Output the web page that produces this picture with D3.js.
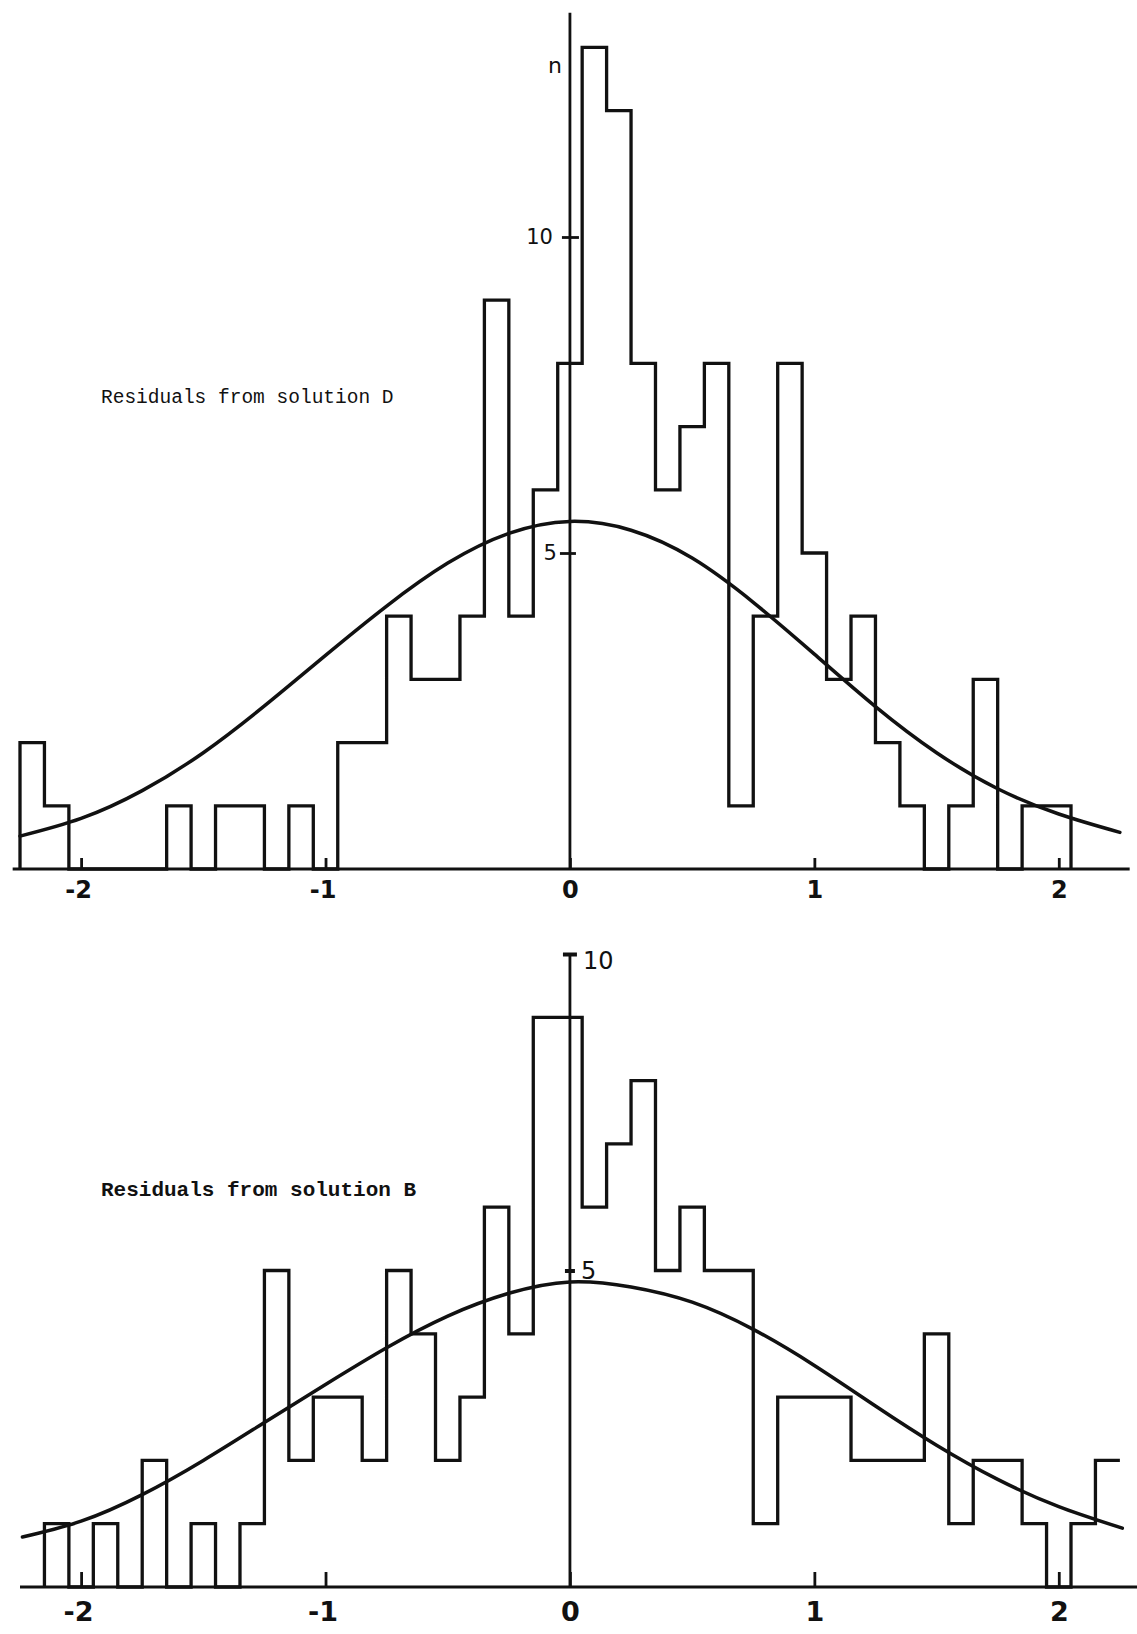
<!DOCTYPE html>
<html><head><meta charset="utf-8">
<script src="https://cdn.jsdelivr.net/npm/d3@7"></script>
<style>
html,body{margin:0;padding:0;background:#fff;}
svg{display:block;}
</style></head><body>
<svg id="chart" width="1137" height="1634"></svg>
<script>
// ---------- data ----------
const binWidth = 0.1;

const topCenters = [-2.2,-2.1,-2.0,-1.9,-1.8,-1.7,-1.6,-1.5,-1.4,-1.3,-1.2,-1.1,-1.0,-0.9,-0.8,-0.7,-0.6,-0.5,-0.4,-0.3,-0.2,-0.1,0.0,0.1,0.2,0.3,0.4,0.5,0.6,0.7,0.8,0.9,1.0,1.1,1.2,1.3,1.4,1.5,1.6,1.7,1.8,1.9,2.0];
const topCounts  = [2,1,0,0,0,0,1,0,1,1,0,1,0,2,2,4,3,3,4,9,4,6,8,13,12,8,6,7,8,1,4,8,5,3,4,2,1,0,1,3,0,1,1];

const bottomCenters = [-2.1,-2.0,-1.9,-1.8,-1.7,-1.6,-1.5,-1.4,-1.3,-1.2,-1.1,-1.0,-0.9,-0.8,-0.7,-0.6,-0.5,-0.4,-0.3,-0.2,-0.1,0.0,0.1,0.2,0.3,0.4,0.5,0.6,0.7,0.8,0.9,1.0,1.1,1.2,1.3,1.4,1.5,1.6,1.7,1.8,1.9,2.0,2.1,2.2];
const bottomCounts  = [1,0,1,0,2,0,1,0,1,5,2,3,3,2,5,4,2,3,6,4,9,9,6,7,8,5,6,5,5,1,3,3,3,2,2,2,4,1,2,2,1,0,1,2];

const topCurveX = [-2.25,-2.0,-1.75,-1.5,-1.25,-1.0,-0.75,-0.5,-0.25,0.0,0.25,0.5,0.75,1.0,1.25,1.5,1.75,2.0,2.25];
const topCurveY = [0.52,0.80,1.24,1.84,2.58,3.38,4.16,4.84,5.31,5.50,5.36,4.92,4.22,3.40,2.57,1.84,1.27,0.87,0.58];

const bottomCurveX = [-2.24,-2.0,-1.75,-1.5,-1.25,-1.0,-0.75,-0.5,-0.25,0.0,0.25,0.5,0.75,1.0,1.25,1.5,1.75,2.0,2.26];
const bottomCurveY = [0.79,1.04,1.46,2.00,2.60,3.20,3.78,4.28,4.64,4.82,4.74,4.50,4.07,3.50,2.86,2.24,1.70,1.27,0.93];

const xTickValues = [-2,-1,0,1,2];
const yTickValues = [5,10];
const topLabel = "Residuals from solution D";
const bottomLabel = "Residuals from solution B";
const topAxisLabel = "n";

// ---------- drawing ----------
const ink = "#111";
const svg = d3.select("#chart");
svg.append("rect").attr("width",1137).attr("height",1634).attr("fill","#fff");

const x = d3.scaleLinear().domain([-2.25, 2.05]).range([20, 1071]);
const yTop = d3.scaleLinear().domain([0,10]).range([869,237]);
const yBot = d3.scaleLinear().domain([0,10]).range([1587,954]);

function stairs(centers, counts, openRight){
  const pts = [[centers[0]-binWidth/2, 0]];
  centers.forEach((c,i)=>{
    pts.push([c-binWidth/2, counts[i]]);
    pts.push([c+binWidth/2, counts[i]]);
  });
  if(!openRight) pts.push([centers[centers.length-1]+binWidth/2, 0]);
  return pts;
}

function drawPanel(opt){
  const g = svg.append("g");
  const y = opt.y;
  // baseline
  g.append("line")
    .attr("x1", x(opt.baseFrom)).attr("x2", x(opt.baseTo))
    .attr("y1", y(0)).attr("y2", y(0))
    .attr("stroke", ink).attr("stroke-width", 3.2);
  // vertical axis
  g.append("line")
    .attr("x1", x(0)).attr("x2", x(0))
    .attr("y1", y(opt.axisTop)).attr("y2", y(0))
    .attr("stroke", ink).attr("stroke-width", 2.8);

  // x ticks + labels
  const xa = g.append("g").attr("transform", `translate(0,${y(0)})`)
    .call(d3.axisBottom(x).tickValues(xTickValues)
      .tickSizeInner(-opt.tickLen).tickSizeOuter(0).tickPadding(opt.xPad)
      .tickFormat(d => String(d)));
  xa.select(".domain").remove();
  xa.selectAll(".tick line").attr("stroke", ink).attr("stroke-width", 2.8);
  xa.selectAll(".tick text").attr("fill", ink)
    .attr("dx", d => d < 0 ? opt.negShift : 0)
    .style("font-family", "'DejaVu Sans', sans-serif")
    .style("font-size", opt.xFont + "px").style("font-weight", opt.xWeight);

  // y ticks + labels
  const ya = g.append("g").attr("transform", `translate(${x(0)},0)`)
    .call((opt.yLeft ? d3.axisLeft(y) : d3.axisRight(y)).tickValues(yTickValues)
      .tickSize(0).tickPadding(opt.yPad).tickFormat(d => String(d)));
  ya.select(".domain").remove();
  ya.selectAll(".tick text").attr("fill", ink)
    .attr("dx", d => d === 10 ? opt.yDx10 : opt.yDx5)
    .attr("dy", d => d === 10 ? opt.yDy10 : "0.32em")
    .style("font-family", "'DejaVu Sans', sans-serif")
    .style("font-size", opt.yFont + "px");
  ya.selectAll(".tick line")
    .attr("x1", d => d === 10 ? -opt.yTickL10 : -opt.yTickL5)
    .attr("x2", d => d === 10 ? opt.yTickR10 : opt.yTickR5)
    .attr("stroke", ink).attr("stroke-width", d => d === 10 ? opt.yTickW10 : opt.yTickW5);

  // histogram outline
  const line = d3.line().x(d => x(d[0])).y(d => y(d[1])).curve(d3.curveLinear);
  g.append("path")
    .attr("d", line(stairs(opt.centers, opt.counts, opt.openRight)))
    .attr("fill", "none").attr("stroke", ink).attr("stroke-width", 3.3)
    .attr("stroke-linejoin", "miter");

  // fitted curve
  const curve = d3.line().x(d => x(d[0])).y(d => y(d[1])).curve(d3.curveNatural);
  g.append("path")
    .attr("d", curve(opt.curveX.map((v,i)=>[v, opt.curveY[i]])))
    .attr("fill", "none").attr("stroke", ink).attr("stroke-width", 3.5)
    .attr("stroke-linecap", "round");

  // caption
  g.append("text")
    .attr("x", 101).attr("y", opt.labelY)
    .attr("fill", ink)
    .style("font-family", "'Liberation Mono', 'DejaVu Sans Mono', monospace")
    .style("font-size", opt.labelFont + "px")
    .style("font-weight", opt.labelWeight)
    .text(opt.label);
  return g;
}

const gTop = drawPanel({
  y: yTop, baseFrom: -2.28, baseTo: 2.29, axisTop: 13.55,
  tickLen: 11, xPad: 12, xFont: 24, xWeight: "bold", negShift: -3,
  yLeft: true, yPad: 17, yFont: 21, yDx10: 0, yDx5: 4, yDy10: "0.32em",
  yTickL10: 8, yTickR10: 9, yTickL5: 10, yTickR5: 6, yTickW10: 2.8, yTickW5: 2.8,
  centers: topCenters, counts: topCounts, openRight: false,
  curveX: topCurveX, curveY: topCurveY,
  label: topLabel, labelY: 403, labelFont: 19.5, labelWeight: "normal"
});
gTop.append("text")
  .attr("x", x(0) - 8).attr("y", yTop(12.6))
  .attr("text-anchor", "end").attr("fill", ink)
  .style("font-family", "'DejaVu Sans', sans-serif").style("font-size", "22px")
  .text(topAxisLabel);

drawPanel({
  y: yBot, baseFrom: -2.25, baseTo: 2.34, axisTop: 10,
  tickLen: 15, xPad: 15, xFont: 27, xWeight: "bold", negShift: -3,
  yLeft: false, yPad: 13, yFont: 24, yDx10: 0, yDx5: -2, yDy10: "0.62em",
  yTickL10: 7, yTickR10: 7, yTickL5: 5, yTickR5: 5, yTickW10: 4, yTickW5: 4,
  centers: bottomCenters, counts: bottomCounts, openRight: true,
  curveX: bottomCurveX, curveY: bottomCurveY,
  label: bottomLabel, labelY: 1196, labelFont: 21, labelWeight: "bold"
});
</script>
</body></html>
